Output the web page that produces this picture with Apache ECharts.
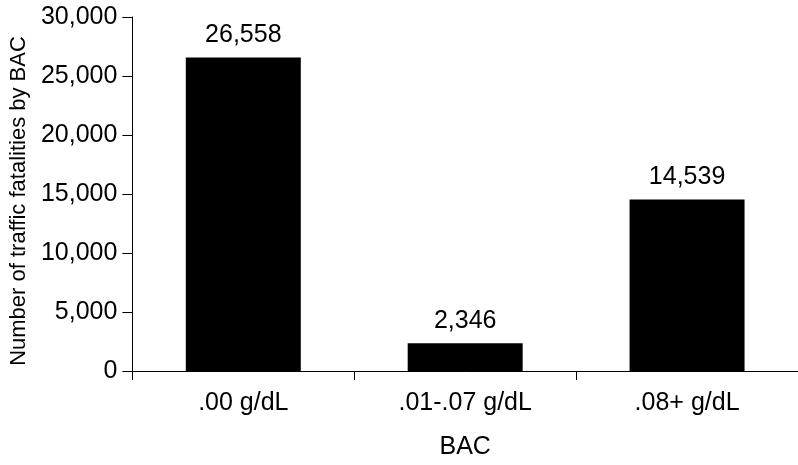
<!DOCTYPE html>
<html><head><meta charset="utf-8">
<script src="https://cdn.jsdelivr.net/npm/echarts@6/dist/echarts.min.js"></script>
<style>html,body{margin:0;padding:0;background:#fff}#c{width:798px;height:465px}</style>
</head><body><div id="c"></div>
<script>
const categories = ['.00 g/dL', '.01-.07 g/dL', '.08+ g/dL'];
const fatalities = [26558, 2346, 14539];
const yMin = 0, yMax = 30000, yStep = 5000;
const xName = 'BAC';
const yName = 'Number of traffic fatalities by BAC';

const FONT = '"Liberation Sans", Arial, sans-serif';
const fmt = v => Number(v).toLocaleString('en-US');
const chart = echarts.init(document.getElementById('c'), null, {renderer: 'canvas'});
chart.setOption({
  animation: false,
  backgroundColor: '#fff',
  textStyle: {fontFamily: FONT, color: '#000'},
  grid: {left: 128, right: -8, top: 17, bottom: 87, containLabel: false},
  xAxis: {
    type: 'category', data: categories, boundaryGap: true,
    name: xName, nameLocation: 'middle', nameGap: 64,
    nameTextStyle: {fontSize: 25, color: '#000', fontFamily: FONT},
    axisLine: {lineStyle: {color: '#000', width: 1}},
    axisTick: {show: true, inside: false, length: 9, lineStyle: {color: '#000'}},
    axisLabel: {fontSize: 25, color: '#000', margin: 20, fontFamily: FONT},
    splitLine: {show: false}
  },
  yAxis: {
    type: 'value', min: yMin, max: yMax, interval: yStep,
    name: yName, nameLocation: 'middle', nameGap: 97,
    nameTextStyle: {fontSize: 22, color: '#000', fontFamily: FONT, padding: [0, 14, 0, 0]},
    axisLine: {show: true, lineStyle: {color: '#000', width: 1}},
    axisTick: {show: true, inside: false, length: 10, lineStyle: {color: '#000'}},
    axisLabel: {fontSize: 25, color: '#000', margin: 15, fontFamily: FONT, formatter: fmt},
    splitLine: {show: false}
  },
  series: [{
    type: 'bar', data: fatalities, barWidth: 115,
    itemStyle: {color: '#000'},
    label: {show: true, position: 'top', distance: 10, fontSize: 25, color: '#000', fontFamily: FONT,
      formatter: p => fmt(p.value)}
  }]
});
</script></body></html>
